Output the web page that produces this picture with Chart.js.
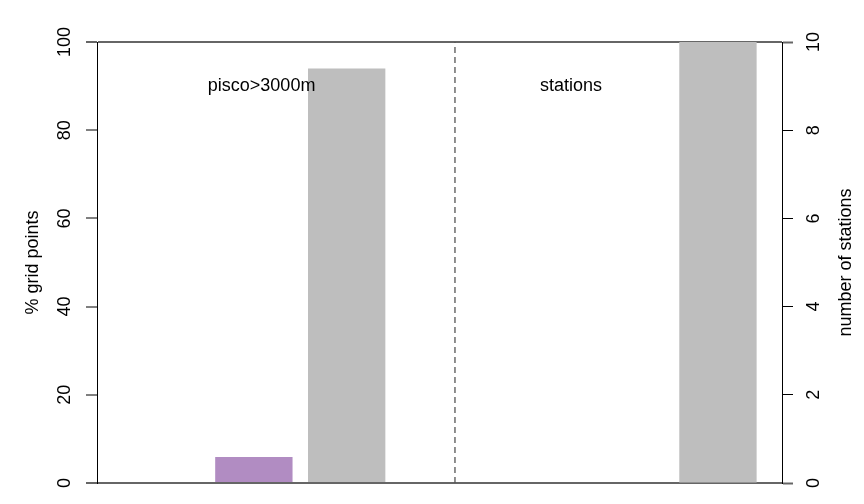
<!DOCTYPE html>
<html>
<head>
<meta charset="utf-8">
<script src="https://cdn.jsdelivr.net/npm/chart.js@4.4.1/dist/chart.umd.min.js"></script>
<style>
  html, body { margin: 0; padding: 0; background: #ffffff; }
  canvas { display: block; }
</style>
</head>
<body>
<canvas id="myChart" width="864" height="504"></canvas>
<script>
// bar positions follow R barplot units (width 1, space 0.2)
const gridBarX = [1.9, 3.1];
const gridBarPercent = [5.9, 94];
const gridBarColors = ['#b18cc2', '#bebebe'];
const stationBarX = [7.9];
const stationBarCount = [10];
const dividerX = 4.5;
const panelLabels = ['pisco>3000m', 'stations'];
const panelLabelX = [2, 6];
const panelLabelY = 90;
const leftTicks = [0, 20, 40, 60, 80, 100];
const rightTicks = [0, 2, 4, 6, 8, 10];

const FONT = '18px "Liberation Sans", Arial, Helvetica, sans-serif';

function isEnd(value, max) {
    return value === 0 || value === max;
}

// draws R-style rotated tick labels, axis titles and the panel labels
const textPlugin = {
    id: 'rText',
    afterDraw: function (chart) {
        var ctx = chart.ctx;
        var yL = chart.scales.y;
        var yR = chart.scales.y2;
        var x = chart.scales.x;
        var area = chart.chartArea;

        ctx.save();
        ctx.font = FONT;
        ctx.fillStyle = '#000';
        ctx.textAlign = 'center';
        ctx.textBaseline = 'middle';

        function rotated(text, px, py) {
            ctx.save();
            ctx.translate(px, py);
            ctx.rotate(-Math.PI / 2);
            ctx.fillText(text, 0, 0);
            ctx.restore();
        }

        leftTicks.forEach(function (v) {
            rotated(String(v), area.left - 32, yL.getPixelForValue(v));
        });
        rightTicks.forEach(function (v) {
            rotated(String(v), area.right + 32, yR.getPixelForValue(v));
        });

        var midY = (area.top + area.bottom) / 2;
        rotated('% grid points', area.left - 64, midY);
        rotated('number of stations', area.right + 64, midY);

        panelLabels.forEach(function (label, i) {
            ctx.fillText(label, x.getPixelForValue(panelLabelX[i]), yL.getPixelForValue(panelLabelY));
        });
        ctx.restore();
    }
};

const data = {
    datasets: [
        {
            type: 'bar',
            label: '% grid points',
            data: gridBarX.map(function (v, i) { return { x: v, y: gridBarPercent[i] }; }),
            backgroundColor: gridBarColors,
            borderWidth: 0,
            yAxisID: 'y',
            grouped: false,
            categoryPercentage: 1,
            barPercentage: 1 / 1.2,
            order: 2
        },
        {
            type: 'bar',
            label: 'number of stations',
            data: stationBarX.map(function (v, i) { return { x: v, y: stationBarCount[i] }; }),
            backgroundColor: '#bebebe',
            borderWidth: 0,
            yAxisID: 'y2',
            grouped: false,
            categoryPercentage: 1,
            barPercentage: 1 / 1.2,
            order: 2
        },
        {
            type: 'line',
            label: 'divider',
            data: [{ x: dividerX, y: 0 }, { x: dividerX, y: 100 }],
            borderColor: '#555555',
            borderWidth: 1.3,
            borderDash: [6, 4],
            pointRadius: 0,
            yAxisID: 'y',
            order: 1
        }
    ]
};

var ctx = document.getElementById('myChart').getContext('2d');
var myChart = new Chart(ctx, {
    type: 'bar',
    data: data,
    plugins: [textPlugin],
    options: {
        responsive: false,
        animation: false,
        devicePixelRatio: 1,
        layout: {
            padding: { top: 42, bottom: 21, left: 0, right: 0 }
        },
        scales: {
            x: {
                type: 'linear',
                display: false,
                min: -0.128,
                max: 8.728,
                offset: false,
                afterBuildTicks: function (scale) { scale.ticks = []; }
            },
            y: {
                position: 'left',
                min: 0,
                max: 100,
                ticks: { stepSize: 20, display: false },
                border: { display: true, color: '#000', width: 1 },
                grid: {
                    drawOnChartArea: true,
                    tickLength: 11,
                    color: function (c) { return isEnd(c.tick.value, 100) ? '#666666' : 'rgba(0,0,0,0)'; },
                    lineWidth: function (c) { return isEnd(c.tick.value, 100) ? 2 : 0; },
                    tickColor: function (c) { return isEnd(c.tick.value, 100) ? '#666666' : '#000'; },
                    tickWidth: function (c) { return isEnd(c.tick.value, 100) ? 2 : 1; }
                },
                afterFit: function (scale) { scale.width = 97; }
            },
            y2: {
                position: 'right',
                min: 0,
                max: 10,
                ticks: { stepSize: 2, display: false },
                border: { display: true, color: '#000', width: 1 },
                grid: {
                    drawOnChartArea: false,
                    tickLength: 11,
                    tickColor: function (c) { return isEnd(c.tick.value, 10) ? '#666666' : '#000'; },
                    tickWidth: function (c) { return isEnd(c.tick.value, 10) ? 2 : 1; }
                },
                afterFit: function (scale) { scale.width = 82; }
            }
        },
        plugins: {
            legend: { display: false },
            tooltip: { enabled: false }
        }
    }
});
</script>
</body>
</html>
